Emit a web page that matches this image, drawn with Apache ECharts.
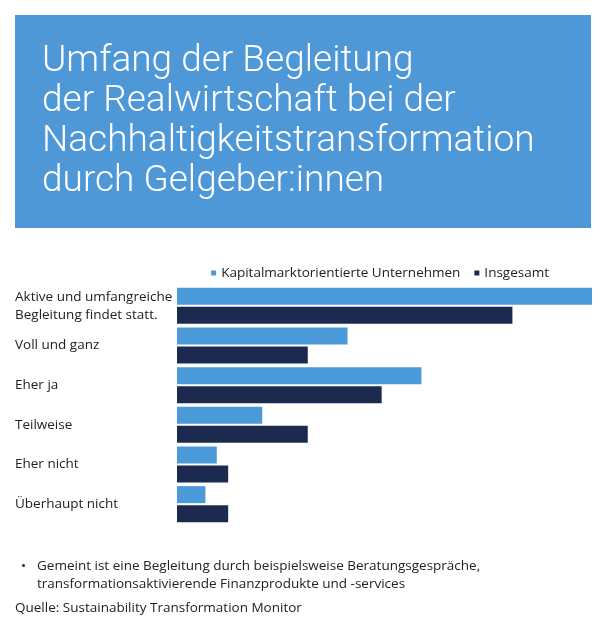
<!DOCTYPE html>
<html lang="de">
<head>
	<meta charset="utf-8">
	<title>Umfang der Begleitung</title>
	<script src="https://cdn.jsdelivr.net/npm/echarts@6/dist/echarts.min.js"></script>
	<style>
		html, body { margin: 0; padding: 0; background: #fff; }
		#chart { width: 600px; height: 631px; }
	</style>
</head>
<body>
<div id="chart"></div>
<script>
// Werte in Prozent
var categories = ['Aktive und umfangreiche\nBegleitung findet statt.', 'Voll und ganz', 'Eher ja', 'Teilweise', 'Eher nicht', 'Überhaupt nicht'];
var kapitalmarkt = [73, 30, 43, 15, 7, 5];
var insgesamt = [59, 23, 36, 23, 9, 9];
var seriesNames = ['Kapitalmarktorientierte Unternehmen', 'Insgesamt'];
var titleText = 'Umfang der Begleitung\nder Realwirtschaft bei der\nNachhaltigkeitstransformation\ndurch Gelgeber:innen';
var noteText = 'Gemeint ist eine Begleitung durch beispielsweise Beratungsgespräche,\ntransformationsaktivierende Finanzprodukte und -services';
var sourceText = 'Quelle: Sustainability Transformation Monitor';

var font = '"Open Sans", "Noto Sans", sans-serif';

echarts.init(document.getElementById('chart')).setOption({
	animation: false,
	color: ['#4a9ad9', '#1b2a4e'],
	graphic: [
		{ type: 'rect', shape: { x: 15, y: 15, width: 576, height: 213 }, style: { fill: '#4f98d8' } },
		{ type: 'text', left: 42, top: 42, style: { text: titleText, fill: '#fff', font: '300 37px Roboto', lineHeight: 40 } },
		{ type: 'text', left: 21, top: 557, style: { text: '•', fill: '#222', font: '13.5px ' + font, lineHeight: 18 } },
		{ type: 'text', left: 37, top: 557, style: { text: noteText, fill: '#222', font: '13.5px ' + font, lineHeight: 18 } },
		{ type: 'text', left: 15, top: 601, style: { text: sourceText, fill: '#222', font: '13.5px ' + font } }
	],
	legend: {
		right: 46,
		top: 261,
		icon: 'rect',
		itemWidth: 5,
		itemHeight: 5,
		itemGap: 14,
		textStyle: { fontFamily: font, fontSize: 13.5, color: '#222' },
		data: seriesNames
	},
	grid: { left: 177, right: 8, top: 286, bottom: 107, containLabel: false },
	xAxis: {
		type: 'value',
		min: 0,
		max: 73,
		show: false
	},
	yAxis: {
		type: 'category',
		inverse: true,
		data: categories,
		axisLine: { show: false },
		axisTick: { show: false },
		axisLabel: {
			margin: 162,
			align: 'left',
			fontFamily: font,
			fontSize: 13.5,
			lineHeight: 18,
			color: '#222'
		}
	},
	series: [
		{ name: seriesNames[0], type: 'bar', data: kapitalmarkt, barWidth: 17, barGap: '12%' },
		{ name: seriesNames[1], type: 'bar', data: insgesamt, barWidth: 17, barGap: '12%' }
	]
});
</script>
</body>
</html>
